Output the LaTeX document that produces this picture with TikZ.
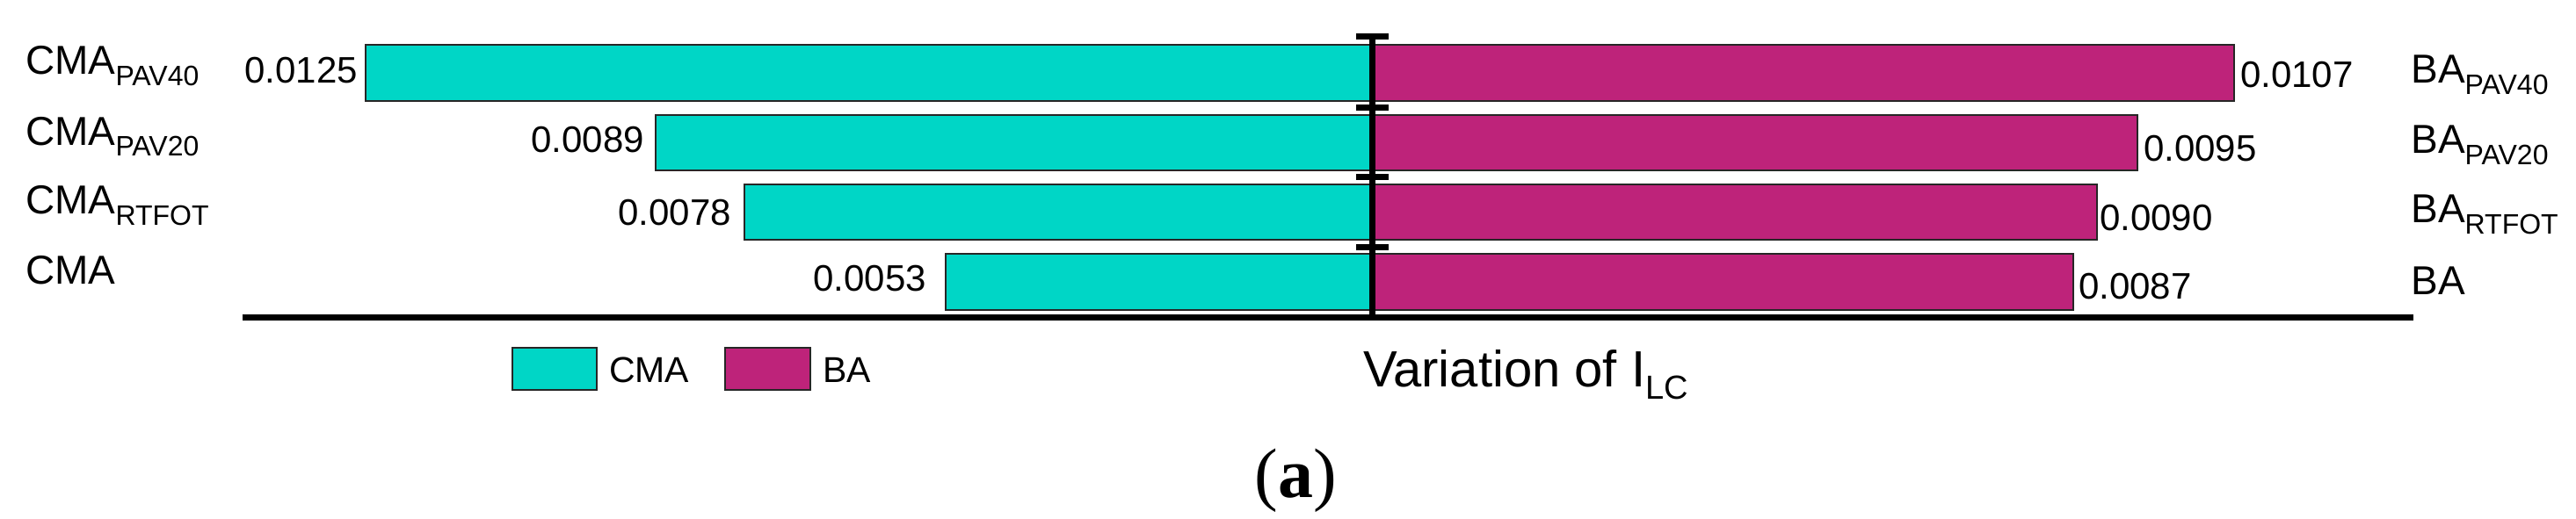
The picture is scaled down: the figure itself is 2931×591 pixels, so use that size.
\documentclass[tikz,border=0pt]{standalone}
\usepackage{fontspec}
\setmainfont{Liberation Sans}
\newfontfamily\capfont{Liberation Serif}
\definecolor{cyanbar}{RGB}{0,214,198}
\definecolor{magbar}{RGB}{190,35,122}
\newcommand{\lblfont}{\fontsize{46}{50}\selectfont}
\newcommand{\subfont}{\fontsize{32}{34}\selectfont}
\newcommand{\valfont}{\fontsize{42}{46}\selectfont}
\newcommand{\legfont}{\fontsize{41}{45}\selectfont}
\newcommand{\lsub}[1]{\raisebox{-13pt}{\subfont #1}}
\begin{document}
\begin{tikzpicture}[x=1pt,y=-1pt,
  cbarstyle/.style={fill=cyanbar,draw=black!85,line width=2pt},
  mbarstyle/.style={fill=magbar,draw=black!85,line width=2pt},
  thick line/.style={line width=6.7pt,black},
  txt/.style={inner sep=0pt,outer sep=0pt},
  rowlbl/.style={txt,anchor=base west,font=\lblfont},
  lval/.style={txt,anchor=base east,font=\valfont},
  rval/.style={txt,anchor=base west,font=\valfont},
  legtxt/.style={txt,anchor=base west,font=\legfont}]
\useasboundingbox (0,0) rectangle (2931,591);
% bars
\filldraw[cbarstyle] (416,50.7) rectangle (1561.5,115);
\filldraw[cbarstyle] (746,130.7) rectangle (1561.5,194);
\filldraw[cbarstyle] (847,210) rectangle (1561.5,273.3);
\filldraw[cbarstyle] (1076,289.3) rectangle (1561.5,353.3);
\filldraw[mbarstyle] (1561.5,50.7) rectangle (2542,115);
\filldraw[mbarstyle] (1561.5,130.7) rectangle (2432,194);
\filldraw[mbarstyle] (1561.5,210) rectangle (2386,273.3);
\filldraw[mbarstyle] (1561.5,289.3) rectangle (2359,353.3);
% axis and centre line
\coordinate (axL) at (275.6,361.7);
\coordinate (axR) at (2746,361.7);
\coordinate (cTop) at (1561.5,41.7);
\coordinate (cBot) at (1561.5,361.7);
\draw[thick line] (axL) -- (axR);
\draw[thick line] (cTop) -- (cBot);
\foreach \yy/\nm in {41.7/t0,122.3/t1,201.7/t2,281.7/t3}{
  \coordinate (\nm a) at (1543,\yy);
  \coordinate (\nm b) at (1580,\yy);
  \draw[thick line] (\nm a) -- (\nm b);
}
% left labels
\node[rowlbl] (l1) at (29.3,85) {CMA\lsub{PAV40}};
\node[rowlbl] (l2) at (29.3,165) {CMA\lsub{PAV20}};
\node[rowlbl] (l3) at (29.3,243) {CMA\lsub{RTFOT}};
\node[rowlbl] (l4) at (29.3,323) {CMA};
% right labels
\node[rowlbl] (r1) at (2743.3,95) {BA\lsub{PAV40}};
\node[rowlbl] (r2) at (2743.3,175) {BA\lsub{PAV20}};
\node[rowlbl] (r3) at (2743.3,253) {BA\lsub{RTFOT}};
\node[rowlbl] (r4) at (2743.3,335) {BA};
% values
\node[lval] (v1) at (407,95) {0.0125};
\node[lval] (v2) at (733,173) {0.0089};
\node[lval] (v3) at (832,256) {0.0078};
\node[lval] (v4) at (1054,331.7) {0.0053};
\node[rval] (w1) at (2549,100) {0.0107};
\node[rval] (w2) at (2439,183) {0.0095};
\node[rval] (w3) at (2389,262) {0.0090};
\node[rval] (w4) at (2365,340) {0.0087};
% legend
\filldraw[cbarstyle] (582.7,396) rectangle (679,444);
\filldraw[mbarstyle] (825,396) rectangle (921.7,444);
\node[legtxt] (g1) at (693,435) {CMA};
\node[legtxt] (g2) at (936,435) {BA};
% axis title
\node[txt,anchor=base west,font=\fontsize{58}{62}\selectfont] (xt) at (1551,440) {Variation of I\raisebox{-14pt}{\fontsize{38}{40}\selectfont LC}};
% panel label
\node[txt,anchor=base,font=\capfont\fontsize{80}{84}\selectfont] (pa) at (1474,566) {(\textbf{a})};
\end{tikzpicture}
\end{document}
